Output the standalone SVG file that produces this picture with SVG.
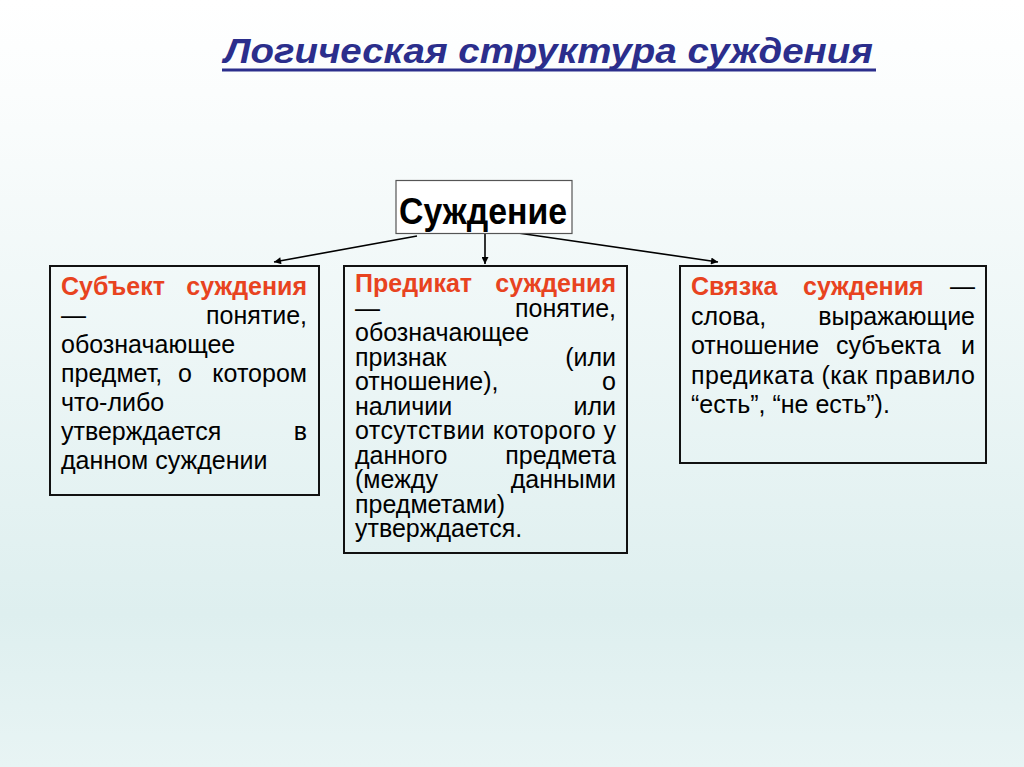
<svg xmlns="http://www.w3.org/2000/svg" width="1024" height="767" viewBox="0 0 1024 767">
<defs>
<linearGradient id="bg" x1="0" y1="0" x2="0" y2="1">
<stop offset="0" stop-color="#ffffff"/>
<stop offset="0.12" stop-color="#fbfdfd"/>
<stop offset="0.8" stop-color="#deefef"/>
<stop offset="1" stop-color="#e8f4f4"/>
</linearGradient>
<marker id="ah" viewBox="0 0 10 10" refX="10" refY="5" markerWidth="9" markerHeight="7" markerUnits="userSpaceOnUse" orient="auto">
<path d="M0,0 L10,5 L0,10 z" fill="#000"/>
</marker>
<style>
text{font-family:"Liberation Sans",Arial,sans-serif;}
.t{font-size:25px;fill:#000;}
.r{font-size:25px;fill:#e8431f;font-weight:bold;}
.m{font-size:24px;}
.e{text-anchor:end;}
.box{fill:none;stroke:#111;stroke-width:2;}
.con{stroke:#000;stroke-width:1.6;fill:none;marker-end:url(#ah);}
</style>
</defs>
<rect x="0" y="0" width="1024" height="767" fill="url(#bg)"/>
<g id="title">
<text x="224" y="63" font-size="35" font-weight="bold" font-style="italic" fill="#2b2e8c" textLength="649" lengthAdjust="spacingAndGlyphs">Логическая структура суждения</text>
<rect x="222" y="68.5" width="654" height="3" fill="#2b2e8c"/>
</g>
<g id="connectors">
<line class="con" x1="417" y1="236" x2="274" y2="262"/>
<line class="con" x1="485" y1="234" x2="485" y2="264"/>
<line class="con" x1="518" y1="233" x2="718" y2="262"/>
</g>
<g id="root">
<rect x="396" y="180.5" width="176" height="53" fill="#fff" stroke="#555" stroke-width="1.2"/>
<text x="399" y="224" font-size="37" font-weight="bold" fill="#000" textLength="168" lengthAdjust="spacingAndGlyphs">Суждение</text>
</g>
<g id="subject">
<rect class="box" x="50" y="266" width="269" height="229"/>
<text class="r" x="61" y="295">Субъект</text><text class="r e" x="307" y="295">суждения</text>
<text class="t" x="61" y="324">—</text><text class="t e" x="307" y="324">понятие,</text>
<text class="t" x="61" y="353">обозначающее</text>
<text class="t" x="61" y="382">предмет,</text><text class="t" x="178" y="382">о</text><text class="t e" x="307" y="382">котором</text>
<text class="t" x="61" y="411">что-либо</text>
<text class="t" x="61" y="440">утверждается</text><text class="t e" x="307" y="440">в</text>
<text class="t" x="61" y="469">данном суждении</text>
</g>
<g id="predicate">
<rect class="box" x="344" y="266" width="283" height="287"/>
<text class="r" x="355" y="292">Предикат</text><text class="r e" x="616" y="292">суждения</text>
<text class="t" x="355" y="316.5">—</text><text class="t e" x="616" y="316.5">понятие,</text>
<text class="t" x="355" y="341">обозначающее</text>
<text class="t" x="355" y="365.5">признак</text><text class="t e" x="616" y="365.5">(или</text>
<text class="t" x="355" y="390">отношение),</text><text class="t e" x="616" y="390">о</text>
<text class="t" x="355" y="414.5">наличии</text><text class="t e" x="616" y="414.5">или</text>
<text class="t" x="355" y="439" textLength="261" lengthAdjust="spacing">отсутствии которого у</text>
<text class="t" x="355" y="463.5">данного</text><text class="t e" x="616" y="463.5">предмета</text>
<text class="t" x="355" y="488">(между</text><text class="t e" x="616" y="488">данными</text>
<text class="t" x="355" y="512.5">предметами)</text>
<text class="t" x="355" y="537">утверждается.</text>
</g>
<g id="copula">
<rect class="box" x="680" y="266" width="306" height="197"/>
<text class="r" x="691" y="295">Связка</text><text class="r" x="803" y="295">суждения</text><text class="t e" x="975" y="295">—</text>
<text class="t" x="691" y="324.5">слова,</text><text class="t e" x="975" y="324.5">выражающие</text>
<text class="t" x="691" y="354">отношение</text><text class="t" x="836" y="354">субъекта</text><text class="t e" x="975" y="354">и</text>
<text class="t" x="691" y="383.5" textLength="284" lengthAdjust="spacing">предиката (как правило</text>
<text class="t" x="691" y="413">“есть”, “не есть”).</text>
</g>
</svg>
